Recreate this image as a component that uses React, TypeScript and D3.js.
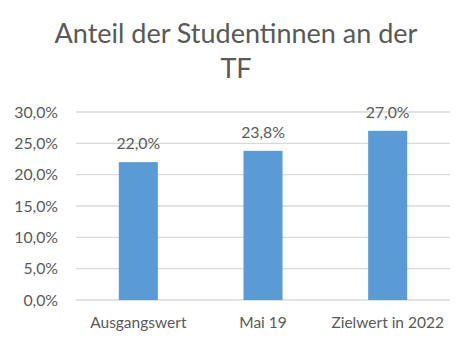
import React from "react";
import * as d3 from "d3";

const categories = ["Ausgangswert", "Mai 19", "Zielwert in 2022"];
const values = [0.22, 0.238, 0.27];
const yTicks = [0, 0.05, 0.1, 0.15, 0.2, 0.25, 0.3];
const titleLines = ["Anteil der Studentinnen an der", "TF"];

const W = 472;
const H = 347;
const FONT = "Lato, 'Open Sans', sans-serif";
const TEXT = "#595959";

const fmt = (v: number) => (v * 100).toFixed(1).replace(".", ",") + "%";

export default function App() {
  const x = d3
    .scaleBand<string>()
    .domain(categories)
    .range([76, 450])
    .paddingInner(0.687)
    .paddingOuter(0.3435);
  const y = d3.scaleLinear().domain([0, 0.3]).range([300, 112]);

  return (
    <svg
      width={W}
      height={H}
      style={{ position: "absolute", left: 0, top: 0, background: "#fff" }}
    >
      {titleLines.map((t, i) => (
        <text
          key={i}
          x={236}
          y={43 + i * 35}
          textAnchor="middle"
          fontFamily={FONT}
          fontSize={27}
          fill={TEXT}
        >
          {t}
        </text>
      ))}
      {yTicks.map((t) => (
        <g key={t}>
          <line
            x1={76}
            x2={450}
            y1={y(t)}
            y2={y(t)}
            stroke="#D9D9D9"
            strokeWidth={1.3}
          />
          <text
            x={58}
            y={y(t)}
            dy="0.36em"
            textAnchor="end"
            fontFamily={FONT}
            fontSize={15.8}
            fill={TEXT}
          >
            {fmt(t)}
          </text>
        </g>
      ))}
      {categories.map((c, i) => (
        <g key={c}>
          <rect
            x={x(c)}
            y={y(values[i])}
            width={x.bandwidth()}
            height={y(0) - y(values[i])}
            fill="#5B9BD5"
          />
          <text
            x={(x(c) ?? 0) + x.bandwidth() / 2}
            y={y(values[i]) - 13}
            textAnchor="middle"
            fontFamily={FONT}
            fontSize={15.8}
            fill={TEXT}
          >
            {fmt(values[i])}
          </text>
          <text
            x={(x(c) ?? 0) + x.bandwidth() / 2}
            y={328}
            textAnchor="middle"
            fontFamily={FONT}
            fontSize={15.5}
            fill={TEXT}
          >
            {c}
          </text>
        </g>
      ))}
    </svg>
  );
}
